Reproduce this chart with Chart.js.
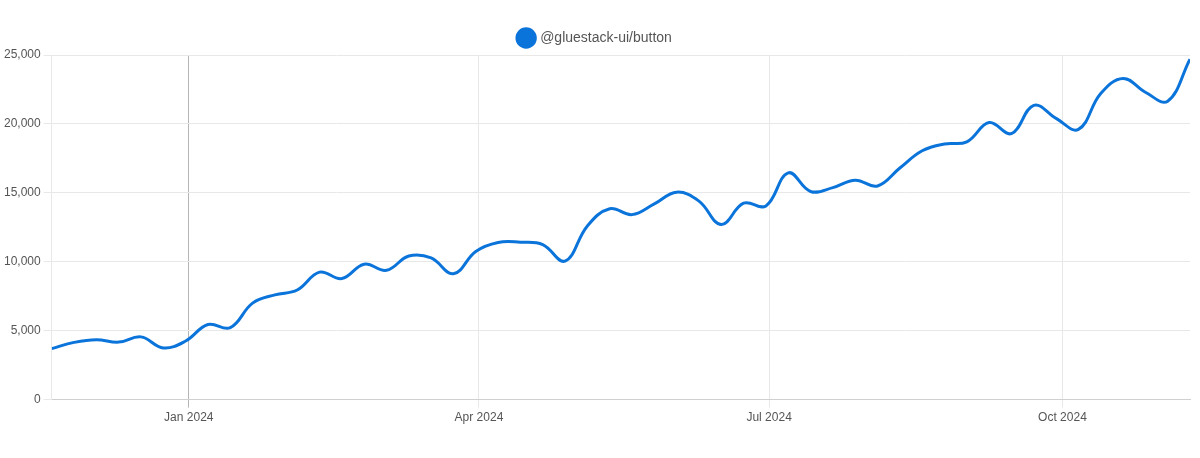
<!DOCTYPE html>
<html>
<head>
<meta charset="utf-8">
<script src="https://cdn.jsdelivr.net/npm/chart.js@4/dist/chart.umd.min.js"></script>
<style>
  html, body { margin: 0; padding: 0; background: #fff; }
  #wrap { width: 1200px; height: 458px; }
</style>
</head>
<body>
<div id="wrap"><canvas id="downloadsChart"></canvas></div>
<script>
// Tyzdenne stiahnutia balika
const packageName = '@gluestack-ui/button';

const weekDates = [
  '2023-11-19', '2023-11-26', '2023-12-03', '2023-12-10', '2023-12-17', '2023-12-24', '2023-12-31',
  '2024-01-07', '2024-01-14', '2024-01-21', '2024-01-28', '2024-02-04', '2024-02-11', '2024-02-18',
  '2024-02-25', '2024-03-03', '2024-03-10', '2024-03-17', '2024-03-24', '2024-03-31', '2024-04-07',
  '2024-04-14', '2024-04-21', '2024-04-28', '2024-05-05', '2024-05-12', '2024-05-19', '2024-05-26',
  '2024-06-02', '2024-06-09', '2024-06-16', '2024-06-23', '2024-06-30', '2024-07-07', '2024-07-14',
  '2024-07-21', '2024-07-28', '2024-08-04', '2024-08-11', '2024-08-18', '2024-08-25', '2024-09-01',
  '2024-09-08', '2024-09-15', '2024-09-22', '2024-09-29', '2024-10-06', '2024-10-13', '2024-10-20',
  '2024-10-27', '2024-11-03', '2024-11-10'
];

const downloads = [
  3700, 4150, 4350, 4170, 4550, 3750, 4250,
  5450, 5220, 7000, 7600, 7950, 9250, 8780,
  9820, 9380, 10420, 10280, 9130, 10750, 11400,
  11420, 11250, 10050, 12600, 13850, 13420, 14200,
  15050, 14400, 12700, 14250, 14050, 16450, 15100,
  15380, 15920, 15500, 16800, 18050, 18550, 18700,
  20100, 19300, 21350, 20400, 19600, 22200, 23300,
  22300, 21650, 24700
];

// Popisky osi x
const tickDates = ['2024-01-01', '2024-04-01', '2024-07-01', '2024-10-01'];
const tickLabels = ['Jan 2024', 'Apr 2024', 'Jul 2024', 'Oct 2024'];
const yTicks = [0, 5000, 10000, 15000, 20000, 25000];

const lineColor = '#0b74da';
const tickTimes = tickDates.map(d => Date.parse(d));
const points = weekDates.map((d, i) => ({ x: Date.parse(d), y: downloads[i] }));

const ctx = document.getElementById('downloadsChart').getContext('2d');
const chart = new Chart(ctx, {
  type: 'line',
  data: {
    datasets: [{
      label: packageName,
      data: points,
      borderColor: lineColor,
      backgroundColor: lineColor,
      borderWidth: 3,
      pointRadius: 0,
      tension: 0.4,
      fill: false
    }]
  },
  options: {
    responsive: true,
    maintainAspectRatio: false,
    animation: false,
    layout: { padding: { left: 1, right: 10, top: 21, bottom: 30 } },
    plugins: {
      legend: {
        position: 'top',
        labels: {
          usePointStyle: true,
          pointStyle: 'circle',
          boxHeight: 13,
          color: '#555',
          font: { family: 'Helvetica, Arial, "Liberation Sans", sans-serif', size: 14 }
        }
      },
      tooltip: { enabled: false }
    },
    scales: {
      x: {
        type: 'linear',
        min: points[0].x,
        max: points[points.length - 1].x,
        afterBuildTicks: axis => { axis.ticks = tickTimes.map(v => ({ value: v })); },
        ticks: {
          color: '#555',
          maxRotation: 0,
          font: { family: 'Helvetica, Arial, "Liberation Sans", sans-serif', size: 12 },
          callback: value => tickLabels[tickTimes.indexOf(value)]
        },
        grid: {
          color: c => (c.tick && c.tick.value === tickTimes[0]) ? '#b5b5b5' : '#e8e8e8'
        },
        border: { color: '#d0d0d0' }
      },
      y: {
        min: 0,
        max: 25000,
        afterBuildTicks: axis => { axis.ticks = yTicks.map(v => ({ value: v })); },
        ticks: {
          color: '#555',
          font: { family: 'Helvetica, Arial, "Liberation Sans", sans-serif', size: 12 },
          callback: value => value.toLocaleString('en-US')
        },
        grid: { color: '#e8e8e8' },
        border: { color: '#e8e8e8' }
      }
    }
  }
});
</script>
</body>
</html>
